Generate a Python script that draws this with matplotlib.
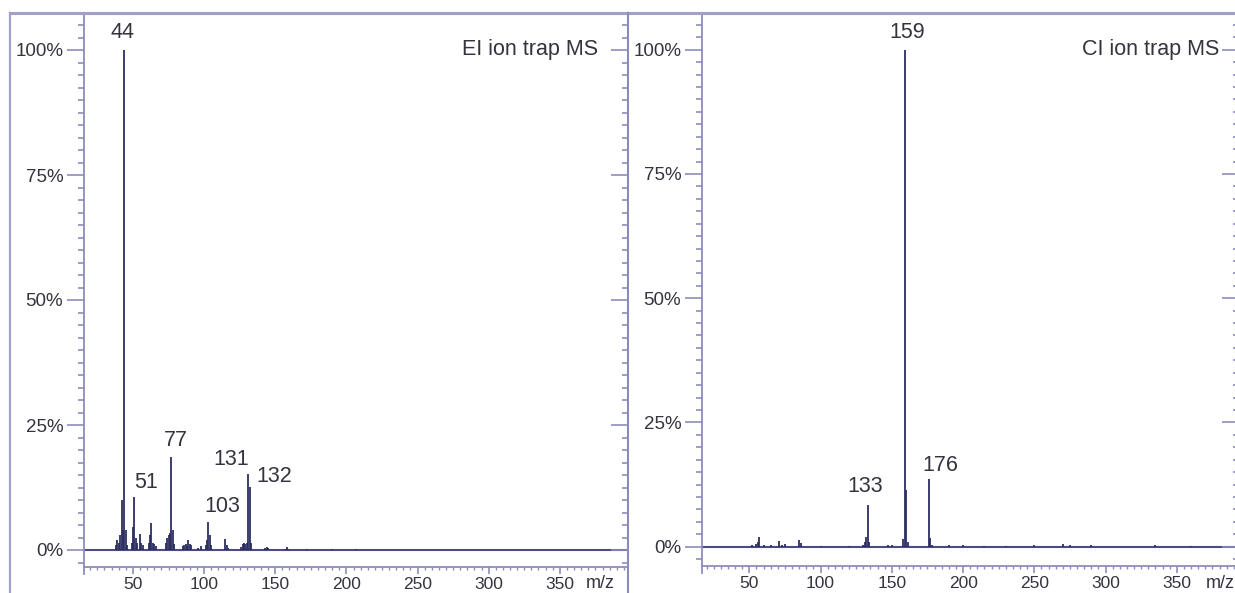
import numpy as np
import matplotlib.pyplot as plt
from matplotlib.lines import Line2D
from matplotlib.ticker import MultipleLocator, FuncFormatter

plt.rcParams['font.family'] = ['Liberation Sans', 'DejaVu Sans']

# EI ion trap spectrum (m/z, relative intensity %)
ei_mz = [38, 39, 40, 41, 42, 43, 44, 45, 46, 49, 50, 51, 52, 53, 55, 56, 57,
         61, 62, 63, 64, 65, 66, 73, 74, 75, 76, 77, 78, 79, 85, 86, 87, 88,
         89, 90, 91, 96, 98, 101, 102, 103, 104, 105, 115, 116, 117, 126,
         127, 128, 129, 130, 131, 132, 133, 143, 144, 145, 157, 158, 159,
         172, 190, 207]
ei_int = [1.0, 2.0, 1.5, 3.0, 10.0, 4.0, 100.0, 4.0, 1.0, 1.5, 4.7, 10.7, 2.5,
          1.5, 3.3, 1.5, 1.0, 1.5, 3.0, 5.5, 1.5, 1.2, 0.8, 1.5, 2.5, 3.0, 3.5,
          18.6, 4.0, 1.2, 0.8, 1.0, 1.2, 0.8, 2.1, 1.2, 1.0, 0.5, 0.8, 1.0,
          2.0, 5.7, 3.0, 1.0, 2.2, 1.0, 0.5, 0.6, 1.2, 1.5, 1.2, 1.5, 15.3,
          12.6, 1.5, 0.4, 0.6, 0.4, 0.3, 0.7, 0.3, 0.3, 0.2, 0.3]

# CI ion trap spectrum
ci_mz = [52, 55, 56, 57, 60, 65, 71, 73, 75, 85, 86, 100, 120, 130, 131,
         132, 133, 134, 147, 150, 158, 159, 160, 161, 176, 177, 178, 190,
         200, 215, 230, 250, 270, 275, 290, 335, 360]
ci_int = [0.3, 0.6, 1.0, 2.0, 0.3, 0.3, 1.2, 0.4, 0.5, 1.3, 0.8, 0.2, 0.2,
          0.4, 1.0, 2.0, 8.4, 1.0, 0.3, 0.3, 1.5, 100.0, 11.4, 1.0, 13.6,
          1.8, 0.3, 0.3, 0.3, 0.2, 0.2, 0.3, 0.5, 0.3, 0.3, 0.4, 0.2]

ei_labels = [44, 51, 77, 103, 131, 132]
ci_labels = [159, 133, 176]

# label centre offsets in pixels (dx, dy) from the peak top
ei_offsets = {44: (-2, 17), 51: (12, 14), 77: (5, 17), 103: (14, 15),
              131: (-17, 14), 132: (25, 10)}
ci_offsets = {159: (3, 17), 133: (-2, 18), 176: (11, 14)}

W, H = 1235, 593
axcol = '#8c8cbc'
linecol = '#2c2e62'
txtcol = '#34343f'

fig = plt.figure(figsize=(W / 100, H / 100), dpi=100)


def px_rect(x0, x1, ytop, ybot):
    return [x0 / W, 1 - ybot / H, (x1 - x0) / W, (ybot - ytop) / H]


def setup(ax, xlim, ylim, mz, inten, labels, offsets, title, title_x, mz_x, mz_y):
    ax.set_xlim(*xlim)
    ax.set_ylim(*ylim)
    ax.vlines(mz, 0, inten, color=linecol, lw=1.3)
    ax.axhline(0, color='#4a4c82', lw=1.5, zorder=1)
    for sp in ax.spines.values():
        sp.set_color(axcol)
        sp.set_linewidth(1.3)
    ax.spines['top'].set_linewidth(2.2)
    ax.spines['top'].set_color('#a0a0c8')

    ax.yaxis.set_major_locator(MultipleLocator(25))
    ax.yaxis.set_minor_locator(MultipleLocator(2.5))
    ax.yaxis.set_major_formatter(FuncFormatter(lambda v, p: f'{v:.0f}%'))
    ax.xaxis.set_major_locator(MultipleLocator(50))
    ax.xaxis.set_minor_locator(MultipleLocator(5))
    ax.tick_params(axis='y', which='major', direction='out', length=12,
                   width=1.2, color=axcol, labelcolor=txtcol, labelsize=13.5, pad=3)
    ax.tick_params(axis='y', which='minor', direction='out', length=4,
                   width=1.2, color=axcol)
    ax.tick_params(axis='x', which='major', direction='out', length=5,
                   width=1.2, color=axcol, labelcolor=txtcol, labelsize=12.5, pad=2)
    ax.tick_params(axis='x', which='minor', direction='out', length=2.5,
                   width=1, color=axcol)
    ax.set_xticks([50, 100, 150, 200, 250, 300, 350])

    # inward ticks on the right edge
    ax2 = ax.twinx()
    ax2.set_ylim(*ylim)
    ax2.yaxis.set_major_locator(MultipleLocator(25))
    ax2.yaxis.set_minor_locator(MultipleLocator(2.5))
    ax2.tick_params(axis='y', which='major', direction='in', length=12,
                    width=1.2, color=axcol, labelright=False)
    ax2.tick_params(axis='y', which='minor', direction='in', length=4,
                    width=1.2, color=axcol)
    for sp in ax2.spines.values():
        sp.set_visible(False)

    for m in labels:
        i = mz.index(m)
        dx, dy = offsets[m]
        ax.annotate(str(m), xy=(m, inten[i]), xytext=(dx, dy),
                    textcoords='offset pixels', ha='center', va='center',
                    fontsize=15.5, color=txtcol)

    ax.text(title_x, 100, title, ha='right', va='center', fontsize=15.5, color=txtcol)
    ax.text(mz_x, mz_y, 'm/z', ha='center', va='center', fontsize=13,
            color=txtcol, clip_on=False)


ax_ei = fig.add_axes(px_rect(84, 628, 13, 567))
setup(ax_ei, (15.6, 397.9), (-3.4, 107.4), ei_mz, ei_int, ei_labels, ei_offsets,
      'EI ion trap MS', 376.8, 378.5, -6.7)

ax_ci = fig.add_axes(px_rect(702, 1239, 13, 566))
setup(ax_ci, (16.8, 393.6), (-3.9, 107.4), ci_mz, ci_int, ci_labels, ci_offsets,
      'CI ion trap MS', 379.6, 380.3, -7.4)

# outer frame lines
def fline(x0, y0, x1, y1, lw=2.0, c='#a0a0c8'):
    fig.add_artist(Line2D([x0 / W, x1 / W], [1 - y0 / H, 1 - y1 / H],
                          color=c, lw=lw, transform=fig.transFigure))

fline(10, 13, W, 13, lw=2.2)
fline(10, 13, 10, H, lw=1.6)
fline(628, 13, 628, H, lw=1.5, c=axcol)
fline(84, 567, 84, 574, lw=1.3, c=axcol)
fline(702, 566, 702, 573, lw=1.3, c=axcol)

fig.savefig('out.png', dpi=100)
